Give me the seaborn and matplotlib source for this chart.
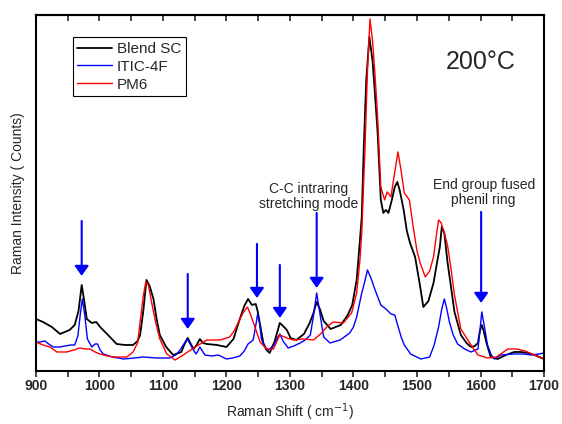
import numpy as np
import pandas as pd
import seaborn as sns
import matplotlib.pyplot as plt
from matplotlib.ticker import MultipleLocator

# Blend SC (black)
shift_blend = [900, 911, 925, 938, 953, 961, 967, 972, 976, 980, 988, 995, 1001, 1015, 1027, 1040, 1053, 1060,
               1064, 1069, 1074, 1079, 1085, 1090, 1095, 1105, 1116, 1129, 1134, 1139, 1143, 1148, 1153, 1158,
               1163, 1169, 1185, 1200, 1211, 1221, 1228, 1234, 1240, 1246, 1249, 1253, 1258, 1263, 1268, 1276,
               1284, 1289, 1295, 1301, 1310, 1322, 1331, 1337, 1342, 1347, 1353, 1364, 1380, 1391, 1398, 1405,
               1410, 1413, 1416, 1420, 1425, 1430, 1434, 1438, 1443, 1447, 1451, 1455, 1460, 1465, 1469, 1473,
               1479, 1484, 1489, 1497, 1504, 1510, 1518, 1526, 1532, 1536, 1539, 1543, 1548, 1554, 1559, 1569,
               1578, 1585, 1591, 1596, 1599, 1602, 1605, 1609, 1616, 1627, 1640, 1653, 1664, 1675, 1685, 1700]
int_blend = [52, 49, 44, 37, 41, 46, 60, 86, 70, 52, 48, 49, 44, 35, 27, 26, 26, 30,
             36, 60, 91, 85, 72, 52, 36, 24, 16, 19, 27, 33, 28, 22, 26, 32,
             28, 27, 26, 24, 32, 52, 65, 72, 66, 67, 60, 46, 28, 21, 18, 30,
             48, 45, 41, 33, 31, 37, 48, 58, 69, 62, 50, 42, 46, 56, 66, 91,
             130, 154, 220, 290, 334, 310, 275, 238, 171, 158, 161, 158, 170, 184, 189, 180,
             161, 140, 128, 114, 88, 64, 70, 88, 110, 124, 144, 138, 109, 82, 59, 36,
             28, 24, 25, 28, 40, 46, 40, 29, 14, 12, 16, 19, 19, 18, 16, 12]

# ITIC-4F (blue)
shift_itic = [900, 906, 914, 920, 927, 937, 946, 955, 961, 966, 970, 973, 977, 981, 988, 993, 997, 1001, 1006,
              1020, 1038, 1055, 1069, 1090, 1111, 1120, 1127, 1133, 1138, 1142, 1147, 1152, 1155, 1158, 1162,
              1166, 1177, 1187, 1200, 1210, 1221, 1228, 1234, 1242, 1246, 1249, 1252, 1255, 1260, 1266, 1275,
              1280, 1284, 1289, 1297, 1306, 1316, 1324, 1332, 1337, 1342, 1347, 1353, 1363, 1379, 1394, 1400,
              1405, 1413, 1418, 1422, 1428, 1434, 1443, 1451, 1459, 1465, 1470, 1475, 1480, 1490, 1506, 1520,
              1527, 1534, 1539, 1543, 1547, 1551, 1557, 1564, 1575, 1585, 1596, 1599, 1602, 1606, 1611, 1617,
              1622, 1632, 1653, 1668, 1680, 1692, 1700]
int_itic = [29, 29, 30, 27, 24, 24, 25, 26, 26, 35, 58, 72, 55, 32, 24, 27, 27, 21, 17,
            14, 12, 13, 14, 13, 13, 16, 21, 27, 32, 28, 22, 17, 20, 24, 20,
            16, 15, 16, 12, 13, 15, 20, 27, 31, 45, 57, 48, 32, 24, 21, 26,
            33, 37, 30, 23, 25, 28, 31, 36, 55, 78, 58, 34, 28, 31, 38, 44,
            54, 78, 90, 101, 92, 81, 66, 62, 57, 56, 45, 34, 26, 17, 12, 14,
            26, 44, 62, 72, 62, 49, 36, 27, 22, 19, 22, 40, 59, 45, 26, 16,
            12, 16, 17, 17, 16, 17, 18]

# PM6 (red)
shift_pm6 = [900, 911, 922, 933, 948, 960, 969, 978, 985, 993, 1001, 1012, 1022, 1043, 1053, 1060, 1064, 1069,
             1073, 1077, 1082, 1088, 1095, 1106, 1119, 1132, 1148, 1169, 1190, 1205, 1212, 1219, 1226, 1233,
             1237, 1242, 1248, 1253, 1263, 1274, 1284, 1295, 1305, 1320, 1337, 1348, 1358, 1368, 1384, 1397,
             1405, 1410, 1413, 1418, 1422, 1426, 1430, 1434, 1438, 1443, 1449, 1453, 1459, 1464, 1470, 1475,
             1480, 1488, 1494, 1500, 1505, 1513, 1520, 1526, 1531, 1534, 1538, 1542, 1548, 1554, 1559, 1569,
             1585, 1596, 1611, 1625, 1643, 1658, 1670, 1685, 1700]
int_pm6 = [29, 26, 24, 19, 19, 21, 23, 22, 22, 19, 17, 15, 14, 14, 19, 28, 49, 75,
           89, 86, 69, 50, 32, 17, 11, 16, 23, 31, 31, 34, 40, 49, 58, 64,
           58, 49, 38, 29, 22, 22, 36, 33, 31, 32, 31, 37, 44, 49, 48, 58,
           78, 110, 138, 221, 300, 352, 330, 295, 254, 184, 171, 179, 174, 195, 219, 200,
           178, 171, 144, 120, 108, 94, 100, 114, 138, 151, 148, 140, 126, 100, 76, 42,
           26, 16, 13, 14, 22, 22, 20, 16, 12]

# arrows: position, tail height, tip height
arrow_x = [972, 1139, 1248, 1284, 1342, 1601]
arrow_top = [150, 97, 127, 106, 158, 159]
arrow_tip = [95, 42, 73, 53, 83, 68]

sns.set_style("ticks")
plt.rcParams['font.family'] = ['Liberation Sans', 'DejaVu Sans']

fig = plt.figure(figsize=(5.62, 4.24), dpi=100)
ax = fig.add_axes([0.064, 0.125, 0.904, 0.840])

df_blend = pd.DataFrame({"shift": shift_blend, "intensity": int_blend})
df_itic = pd.DataFrame({"shift": shift_itic, "intensity": int_itic})
df_pm6 = pd.DataFrame({"shift": shift_pm6, "intensity": int_pm6})

sns.lineplot(data=df_blend, x="shift", y="intensity", color="black", lw=1.3, label="Blend SC", ax=ax)
sns.lineplot(data=df_itic, x="shift", y="intensity", color="blue", lw=1.0, label="ITIC-4F", ax=ax)
sns.lineplot(data=df_pm6, x="shift", y="intensity", color="red", lw=1.0, label="PM6", ax=ax)

for xa, yt, yh in zip(arrow_x, arrow_top, arrow_tip):
    ax.annotate("", xy=(xa, yh), xytext=(xa, yt),
                arrowprops=dict(arrowstyle="-|>,head_width=0.35,head_length=0.5", color="blue",
                                lw=1.5, mutation_scale=12, shrinkA=0, shrinkB=0))

ax.text(1330, 174, "C-C intraring\nstretching mode", ha="center", va="center", fontsize=10, linespacing=1.1)
ax.text(1605, 178, "End group fused\nphenil ring", ha="center", va="center", fontsize=10, linespacing=1.1)
ax.text(1601, 309, "200°C", ha="center", va="center", fontsize=18)

ax.set_xlim(900, 1700)
ax.set_ylim(0, 356)
ax.set_yticks([])
ax.xaxis.set_major_locator(MultipleLocator(100))
ax.xaxis.set_minor_locator(MultipleLocator(50))
ax.tick_params(axis="x", which="both", direction="out", length=4, width=1.2, top=False, labelsize=10, pad=2)
sec = ax.secondary_xaxis("top")
sec.xaxis.set_major_locator(MultipleLocator(50))
sec.tick_params(direction="in", length=4, width=1.2, labeltop=False)
sec.spines["top"].set_linewidth(1.5)
for lab in ax.get_xticklabels():
    lab.set_fontweight("bold")
for s in ax.spines.values():
    s.set_visible(True)
    s.set_linewidth(1.5)
    s.set_color("black")

ax.set_xlabel("Raman Shift ( cm$^{-1}$)", fontsize=10, labelpad=6)
ax.set_ylabel("Raman Intensity ( Counts)", fontsize=10, labelpad=8)

leg = ax.legend(loc="upper left", bbox_to_anchor=(0.072, 0.937), borderaxespad=0, fancybox=False,
                edgecolor="black", framealpha=1, fontsize=11, handlelength=2.3, labelspacing=0.25,
                borderpad=0.3, handletextpad=0.3)
leg.get_frame().set_linewidth(0.8)

plt.savefig("out.png", dpi=100)
